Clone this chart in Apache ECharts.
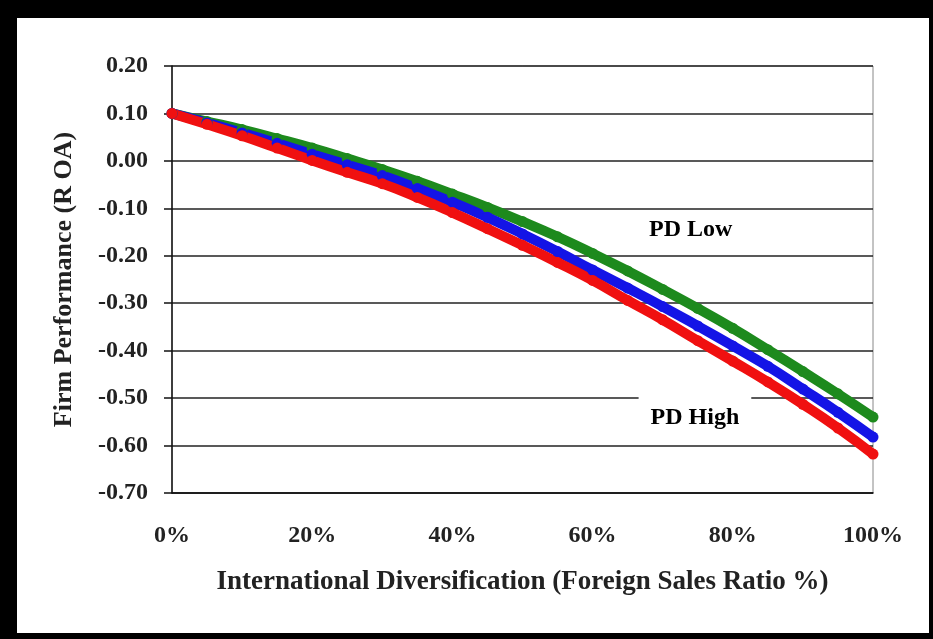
<!DOCTYPE html>
<html>
<head>
<meta charset="utf-8">
<script src="https://cdn.jsdelivr.net/npm/echarts@6/dist/echarts.min.js"></script>
<style>
  html, body { margin: 0; padding: 0; background: #000; width: 933px; height: 639px; overflow: hidden; }
  #chart { position: absolute; left: 17px; top: 18px; width: 912px; height: 615px; background: #fff; }
</style>
</head>
<body>
<div id="chart"></div>
<script>
// Foreign sales ratio (%) at which values were read
const xPct = [0, 5, 10, 15, 20, 25, 30, 35, 40, 45, 50, 55, 60, 65, 70, 75, 80, 85, 90, 95, 100];
// PD Low (green)
const greenROA = [0.100, 0.083, 0.066, 0.047, 0.027, 0.005, -0.018, -0.043, -0.070, -0.098, -0.128, -0.160, -0.195, -0.232, -0.271, -0.311, -0.353, -0.398, -0.444, -0.491, -0.540];
// middle (blue)
const blueROA = [0.100, 0.080, 0.059, 0.037, 0.014, -0.008, -0.031, -0.058, -0.087, -0.119, -0.154, -0.191, -0.230, -0.268, -0.307, -0.348, -0.390, -0.433, -0.481, -0.530, -0.582];
// PD High (red)
const redROA = [0.100, 0.077, 0.053, 0.027, 0.001, -0.024, -0.048, -0.077, -0.109, -0.143, -0.178, -0.214, -0.252, -0.294, -0.335, -0.379, -0.422, -0.466, -0.513, -0.563, -0.618];

const xTicks = [0, 20, 40, 60, 80, 100];
const yTicks = [0.20, 0.10, 0.00, -0.10, -0.20, -0.30, -0.40, -0.50, -0.60, -0.70];

const xTitle = 'International Diversification (Foreign Sales Ratio %)';
const yTitle = 'Firm Performance (R OA)';
const labelLow = 'PD Low';
const labelHigh = 'PD High';
// annotation anchor points in data space
const lowAnchor = [74, -0.146];
const highAnchor = [74.6, -0.541];

const FONT = '"Liberation Serif", "Times New Roman", serif';

function pairs(xs, ys) { return xs.map((x, i) => [x, ys[i]]); }

function mkSeries(name, color, ys) {
  return {
    name: name, type: 'line', smooth: true, clip: false,
    symbol: 'circle', symbolSize: 11, showSymbol: true,
    itemStyle: { color: color },
    lineStyle: { color: color, width: 10 },
    data: pairs(xPct, ys),
    animation: false
  };
}

const chart = echarts.init(document.getElementById('chart'), null, { renderer: 'canvas' });
const option = {
  animation: false,
  backgroundColor: '#fff',
  grid: { left: 155, right: 56, top: 48, bottom: 140, show: true, borderColor: '#888', borderWidth: 1, backgroundColor: 'transparent' },
  xAxis: {
    type: 'value', min: xTicks[0], max: xTicks[xTicks.length - 1], interval: 20,
    axisLine: { show: true, onZero: false, lineStyle: { color: '#111', width: 1.5 } },
    axisTick: { show: false },
    splitLine: { show: false },
    axisLabel: { margin: 31, color: '#222', fontFamily: FONT, fontWeight: 'bold', fontSize: 24, formatter: v => v + '%' },
    name: xTitle, nameLocation: 'middle', nameGap: 76,
    nameTextStyle: { color: '#222', fontFamily: FONT, fontWeight: 'bold', fontSize: 27 }
  },
  yAxis: {
    type: 'value', min: yTicks[yTicks.length - 1], max: yTicks[0], interval: 0.1,
    axisLine: { show: true, lineStyle: { color: '#111', width: 1.5 } },
    axisTick: { show: true, inside: false, length: 8, lineStyle: { color: '#111', width: 1.5 } },
    splitLine: { show: true, lineStyle: { color: '#222', width: 1.5 } },
    axisLabel: { margin: 24, color: '#222', fontFamily: FONT, fontWeight: 'bold', fontSize: 24,
      formatter: v => (Math.abs(v) < 1e-9 ? 0 : v).toFixed(2) },
    name: yTitle, nameLocation: 'middle', nameGap: 95,
    nameTextStyle: { color: '#222', fontFamily: FONT, fontWeight: 'bold', fontSize: 26 }
  },
  series: [
    mkSeries('PD Low', '#1d8a1d', greenROA),
    mkSeries('Mid', '#1414e6', blueROA),
    mkSeries('PD High', '#f01010', redROA)
  ]
};
chart.setOption(option);

const pLow = chart.convertToPixel({ gridIndex: 0 }, lowAnchor);
const pHigh = chart.convertToPixel({ gridIndex: 0 }, highAnchor);
chart.setOption({
  graphic: [
    { type: 'text', x: pLow[0], y: pLow[1], z: 100,
      style: { text: labelLow, fill: '#000', font: 'bold 24px ' + FONT, align: 'center', verticalAlign: 'middle' } },
    { type: 'text', x: pHigh[0], y: pHigh[1], z: 100,
      style: { text: labelHigh, fill: '#000', font: 'bold 24px ' + FONT, align: 'center', verticalAlign: 'middle',
        backgroundColor: '#fff', padding: [16, 12, 8, 12] } }
  ]
});
</script>
</body>
</html>
